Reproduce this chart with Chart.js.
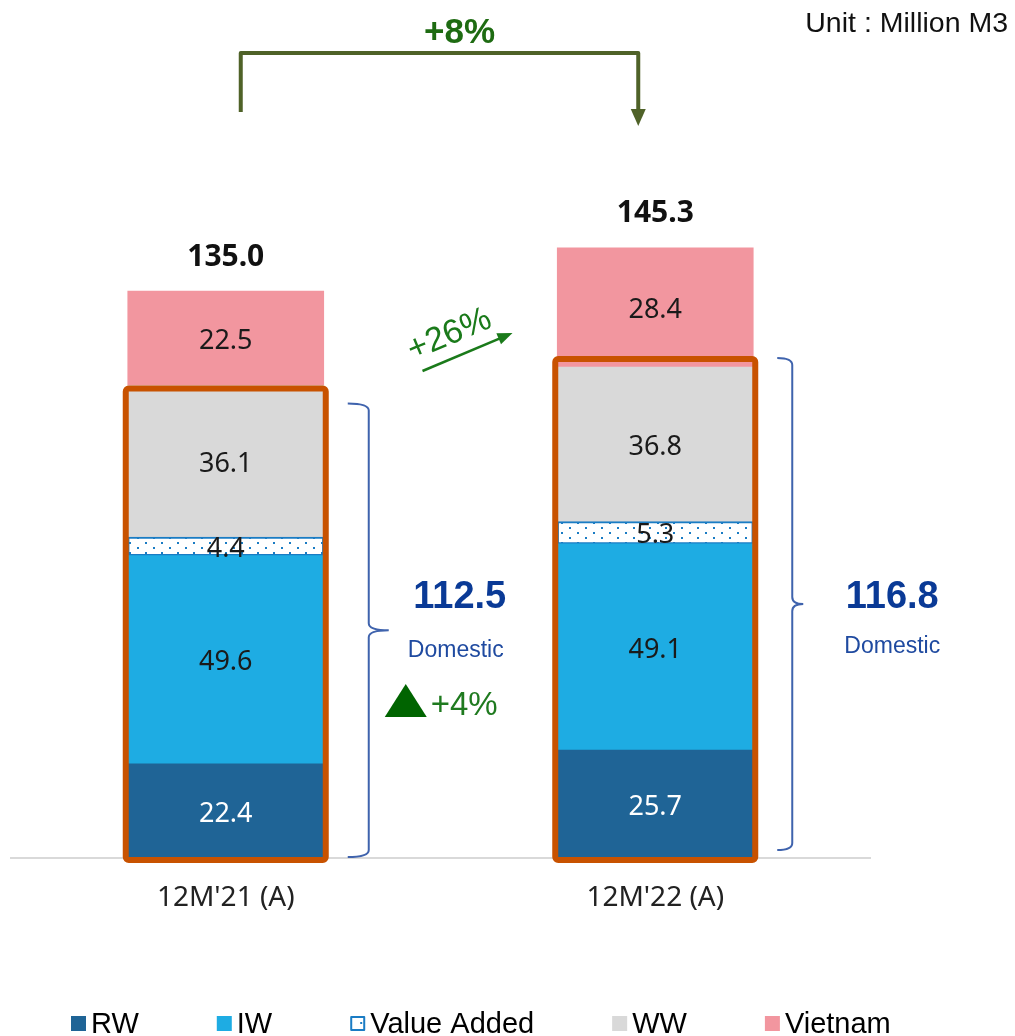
<!DOCTYPE html>
<html>
<head>
<meta charset="utf-8">
<script src="https://cdn.jsdelivr.net/npm/chart.js@4.4.1/dist/chart.umd.min.js"></script>
<style>
  html, body { margin: 0; padding: 0; background: #fff; }
</style>
</head>
<body>
<canvas id="waterChart" width="1015" height="1036"></canvas>
<script>
// Chart data (Million M3)
const categories = ["12M'21 (A)", "12M'22 (A)"];
const rw = [22.4, 25.7];
const iw = [49.6, 49.1];
const valueAdded = [4.4, 5.3];
const ww = [36.1, 36.8];
const vietnam = [22.5, 28.4];
const totals = ["135.0", "145.3"];
const domestic = ["112.5", "116.8"];
const growthTotal = "+8%";
const growthVietnam = "+26%";
const growthDomestic = "+4%";

const seriesNames = ["RW", "IW", "Value Added", "WW", "Vietnam"];
const seriesColors = ["#1f6496", "#1eace3", "#ffffff", "#d9d9d9", "#f2969f"];
const labelColors = ["#ffffff", "#1a1a1a", "#1a1a1a", "#1a1a1a", "#1a1a1a"];

// dotted fill for the Value Added segment
function dotPattern() {
    const c = document.createElement("canvas");
    c.width = 16; c.height = 10;
    const g = c.getContext("2d");
    g.fillStyle = "#ffffff";
    g.fillRect(0, 0, 16, 10);
    g.fillStyle = "#1a7cc4";
    g.fillRect(1, 2, 2, 2);
    g.fillRect(9, 7, 2, 2);
    return g.createPattern(c, "repeat");
}

function arrowHead(ctx, x, y, angle, len, w, color) {
    ctx.save();
    ctx.translate(x, y);
    ctx.rotate(angle);
    ctx.beginPath();
    ctx.moveTo(0, 0);
    ctx.lineTo(-len, -w / 2);
    ctx.lineTo(-len, w / 2);
    ctx.closePath();
    ctx.fillStyle = color;
    ctx.fill();
    ctx.restore();
}

// right curly brace
function brace(ctx, xEnd, xMid, xTip, top, bottom) {
    const mid = (top + bottom) / 2, r = 7;
    ctx.beginPath();
    ctx.moveTo(xEnd, top);
    ctx.quadraticCurveTo(xMid, top, xMid, top + r);
    ctx.lineTo(xMid, mid - r);
    ctx.quadraticCurveTo(xMid, mid, xTip, mid);
    ctx.quadraticCurveTo(xMid, mid, xMid, mid + r);
    ctx.lineTo(xMid, bottom - r);
    ctx.quadraticCurveTo(xMid, bottom, xEnd, bottom);
    ctx.strokeStyle = "#3f63ad";
    ctx.lineWidth = 2;
    ctx.stroke();
}

const annotations = {
    id: "annotations",
    afterDatasetsDraw(chart) {
        const ctx = chart.ctx;
        const base = chart.scales.y.getPixelForValue(0);
        ctx.save();
        ctx.textAlign = "center";
        ctx.textBaseline = "middle";

        // segment values
        chart.data.datasets.forEach((ds, i) => {
            chart.getDatasetMeta(i).data.forEach((el, j) => {
                ctx.font = "27px 'Noto Sans'";
                ctx.fillStyle = labelColors[i];
                ctx.fillText(ds.data[j].toFixed(1), el.x, (el.y + el.base) / 2 + 3);
            });
        });

        const top = chart.getDatasetMeta(4).data;
        const dom = chart.getDatasetMeta(3).data;

        // totals above bars
        ctx.font = "bold 30px 'Noto Sans'";
        ctx.fillStyle = "#111";
        top.forEach((el, j) => ctx.fillText(totals[j], el.x, el.y - 34));

        // orange box around domestic part
        const boxOff = [3, -8];
        dom.forEach((el, j) => {
            ctx.beginPath();
            ctx.roundRect(el.x - 100, el.y + boxOff[j], 200, base + 2 - (el.y + boxOff[j]), 3);
            ctx.strokeStyle = "#c85200";
            ctx.lineWidth = 6;
            ctx.stroke();
        });

        // braces
        const b0 = dom[0], b1 = dom[1];
        brace(ctx, b0.x + 122, b0.x + 143, b0.x + 163, b0.y + 18, base - 1);
        brace(ctx, b1.x + 122, b1.x + 137, b1.x + 148, b1.y - 9, base - 8);

        // domestic totals
        dom.forEach((el, j) => {
            const cx = el.x + [234, 237][j];
            ctx.fillStyle = "#0a3a96";
            ctx.font = "bold 38px 'Liberation Sans'";
            ctx.fillText(domestic[j], cx, base - 260);
            ctx.font = "23px 'Liberation Sans'";
            ctx.fillStyle = "#1f4aa0";
            ctx.fillText("Domestic", cx - [4, 0][j], base - [207, 211][j]);
        });

        // +4% with triangle
        const tx = b0.x + 159;
        ctx.beginPath();
        ctx.moveTo(tx, base - 141);
        ctx.lineTo(tx + 42, base - 141);
        ctx.lineTo(tx + 21, base - 174);
        ctx.closePath();
        ctx.fillStyle = "#006400";
        ctx.fill();
        ctx.font = "33px 'Liberation Sans'";
        ctx.fillStyle = "#1f7a1f";
        ctx.textAlign = "left";
        ctx.fillText(growthDomestic, tx + 46, base - 152);
        ctx.textAlign = "center";

        // +8% bracket arrow
        const xa = b0.x + 15, xb = b1.x - 17;
        ctx.beginPath();
        ctx.moveTo(xa, 112);
        ctx.lineTo(xa, 53);
        ctx.lineTo(xb, 53);
        ctx.lineTo(xb, 111);
        ctx.strokeStyle = "#4f6228";
        ctx.lineWidth = 4;
        ctx.lineJoin = "round";
        ctx.stroke();
        arrowHead(ctx, xb, 126, Math.PI / 2, 17, 15, "#4f6228");
        ctx.font = "bold 35px 'Liberation Sans'";
        ctx.fillStyle = "#1e6b12";
        ctx.fillText(growthTotal, (xa + xb) / 2 + 20, 33);

        // +26% arrow for Vietnam
        const mid = (b0.x + b1.x) / 2;
        const ang = Math.atan2(333 - 371, 90);
        ctx.beginPath();
        ctx.moveTo(mid - 18, 371);
        ctx.lineTo(mid + 72 - 13 * Math.cos(ang), 333 - 13 * Math.sin(ang));
        ctx.strokeStyle = "#1a7a1a";
        ctx.lineWidth = 2.5;
        ctx.stroke();
        arrowHead(ctx, mid + 72, 333, ang, 15, 12, "#1a7a1a");
        ctx.save();
        ctx.translate(mid + 9, 335);
        ctx.rotate(ang);
        ctx.font = "34px 'Liberation Sans'";
        ctx.fillStyle = "#1a7a1a";
        ctx.fillText(growthVietnam, 0, 0);
        ctx.restore();

        // unit
        ctx.font = "28.5px 'Liberation Sans'";
        ctx.fillStyle = "#111";
        ctx.textAlign = "right";
        ctx.fillText("Unit : Million M3", 1008, 24);

        // legend
        ctx.textAlign = "left";
        ctx.font = "29px 'Liberation Sans'";
        let lx = 71;
        seriesNames.forEach((name, i) => {
            if (i === 2) {
                ctx.fillStyle = "#fff";
                ctx.fillRect(lx, 1016, 15, 15);
                ctx.strokeStyle = "#1a7cc4";
                ctx.lineWidth = 2;
                ctx.strokeRect(lx + 1, 1017, 13, 13);
                ctx.fillStyle = "#1a7cc4";
                ctx.fillRect(lx + 10, 1022, 2, 2);
            } else {
                ctx.fillStyle = seriesColors[i];
                ctx.fillRect(lx, 1016, 15, 15);
            }
            ctx.fillStyle = "#000";
            ctx.fillText(name, lx + 20, 1025);
            lx += 20 + ctx.measureText(name).width + 78;
        });

        ctx.restore();
    }
};

const seriesData = [rw, iw, valueAdded, ww, vietnam];
const pattern = dotPattern();

new Chart(document.getElementById("waterChart"), {
    type: "bar",
    data: {
        labels: categories,
        datasets: seriesData.map((d, i) => ({
            label: seriesNames[i],
            data: d,
            backgroundColor: i === 2 ? pattern : seriesColors[i],
            borderColor: i === 2 ? "#1a7cc4" : seriesColors[i],
            borderWidth: i === 2 ? 2 : 0,
            borderSkipped: false
        }))
    },
    options: {
        responsive: false,
        animation: false,
        devicePixelRatio: 1,
        datasets: { bar: { barThickness: 196 } },
        layout: { padding: { top: 102, left: 11, right: 145, bottom: 0 } },
        scales: {
            x: {
                stacked: true,
                grid: { display: false, drawTicks: false },
                border: { display: true, color: "#d9d9d9", width: 2 },
                ticks: { font: { family: "Noto Sans", size: 28 }, color: "#222", padding: 23 },
                afterFit(scale) { scale.height = 178; }
            },
            y: { stacked: true, display: false, min: 0, max: 180 }
        },
        plugins: {
            legend: { display: false },
            tooltip: { enabled: false }
        }
    },
    plugins: [annotations]
});
</script>
</body>
</html>
